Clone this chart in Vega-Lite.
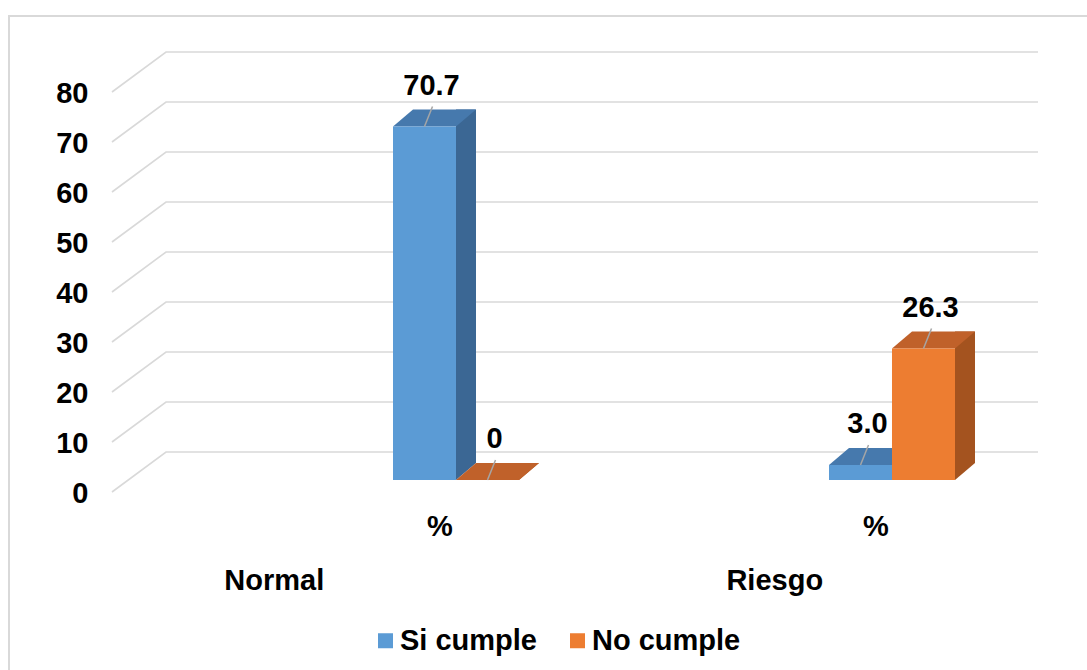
{
  "$schema": "https://vega.github.io/schema/vega-lite/v6.json",
  "width": 1081,
  "height": 657,
  "autosize": "none",
  "padding": {"left": 9, "top": 16, "right": -3, "bottom": -3},
  "background": "white",
  "config": {
    "view": {"stroke": "#d9d9d9", "strokeWidth": 2},
    "font": "Liberation Sans"
  },
  "datasets": {
    "pct": [
      {"cat": "Normal", "series": "Si cumple", "value": 70.7},
      {"cat": "Normal", "series": "No cumple", "value": 0},
      {"cat": "Riesgo", "series": "Si cumple", "value": 3.0},
      {"cat": "Riesgo", "series": "No cumple", "value": 26.3}
    ],
    "ticks": [
      {"v": 0}, {"v": 10}, {"v": 20}, {"v": 30}, {"v": 40},
      {"v": 50}, {"v": 60}, {"v": 70}, {"v": 80}
    ],
    "groups": [{"cat": "Normal"}, {"cat": "Riesgo"}]
  },
  "resolve": {"scale": {"x": "independent"}, "axis": {"x": "independent"}},
  "layer": [
    {
      "data": {"name": "ticks"},
      "mark": {
        "type": "point",
        "shape": "M-437.5,40L-383.5,0L488.5,0",
        "size": 4,
        "filled": false,
        "color": "#d9d9d9",
        "stroke": "#d9d9d9",
        "strokeWidth": 1.6,
        "opacity": 1
      },
      "encoding": {
        "y": {
          "field": "v",
          "type": "quantitative",
          "title": null,
          "scale": {"domain": [0, 80], "range": [436, 36], "nice": false, "zero": true},
          "axis": {
            "values": [0, 10, 20, 30, 40, 50, 60, 70, 80],
            "domain": false,
            "ticks": false,
            "tickSize": 0,
            "grid": false,
            "labelPadding": 0,
            "offset": -79,
            "labelOffset": 41,
            "labelFlush": false,
            "labelFontSize": 29,
            "labelFontWeight": "bold",
            "labelFont": "Liberation Sans",
            "labelColor": "#000000",
            "title": null
          }
        }
      }
    },
    {
      "data": {"name": "pct"},
      "resolve": {"scale": {"xOffset": "independent"}},
      "encoding": {
        "x": {
          "field": "cat",
          "type": "nominal",
          "title": null,
          "scale": {"range": [384, 946], "paddingInner": 0.711, "paddingOuter": 0}
        },
        "y": {"field": "value", "type": "quantitative", "stack": null, "title": null}
      },
      "layer": [
        {
          "mark": {"type": "bar", "yOffset": 11, "y2Offset": 11},
          "encoding": {
            "xOffset": {
              "field": "series",
              "type": "nominal",
              "scale": {"type": "band", "domain": ["Si cumple", "No cumple"], "range": [63, 146], "paddingInner": 0.6825, "paddingOuter": 0}
            },
            "y2": {"datum": 0},
            "color": {
              "condition": {"test": "datum.series === 'Si cumple'", "value": "#3b6794"},
              "value": "#a4531f"
            }
          }
        },
        {
          "mark": {
            "type": "point",
            "shape": "M31.5,0L31.5,-17L51.5,-17Z",
            "size": 4,
            "filled": true,
            "opacity": 1,
            "strokeWidth": 0,
            "yOffset": 28
          },
          "encoding": {
            "xOffset": {
              "field": "series",
              "type": "nominal",
              "scale": {"type": "band", "domain": ["Si cumple", "No cumple"], "paddingInner": 0, "paddingOuter": 0}
            },
            "y": {"datum": 0, "type": "quantitative"},
            "color": {
              "condition": {"test": "datum.series === 'Si cumple'", "value": "#3b6794"},
              "value": "#a4531f"
            }
          }
        },
        {
          "mark": {
            "type": "point",
            "shape": "M-31.5,0L31.5,0L51.5,-17L-11.5,-17Z",
            "size": 4,
            "filled": true,
            "opacity": 1,
            "strokeWidth": 0,
            "yOffset": 28
          },
          "encoding": {
            "xOffset": {
              "field": "series",
              "type": "nominal",
              "scale": {"type": "band", "domain": ["Si cumple", "No cumple"], "paddingInner": 0, "paddingOuter": 0}
            },
            "color": {
              "condition": {"test": "datum.series === 'Si cumple'", "value": "#4679ad"},
              "value": "#c0612a"
            }
          }
        },
        {
          "mark": {"type": "bar", "yOffset": 28, "y2Offset": 28},
          "encoding": {
            "xOffset": {
              "field": "series",
              "type": "nominal",
              "scale": {"type": "band", "domain": ["Si cumple", "No cumple"], "paddingInner": 0, "paddingOuter": 0}
            },
            "y2": {"datum": 0},
            "x": {
              "field": "cat",
              "type": "nominal",
              "title": null,
              "axis": {
                "labelExpr": "'%'",
                "labelAngle": 0,
                "labelAlign": "center",
                "labelOffset": -16,
                "offset": -147,
                "labelBaseline": "middle",
                "labelPadding": 0,
                "domain": false,
                "ticks": false,
                "tickSize": 0,
                "grid": false,
                "labelFontSize": 29,
                "labelFontWeight": "bold",
                "labelFont": "Liberation Sans",
                "labelColor": "#000000",
                "title": null
              }
            },
            "color": {
              "field": "series",
              "type": "nominal",
              "scale": {"domain": ["Si cumple", "No cumple"], "range": ["#5b9bd5", "#ed7d31"]},
              "legend": {
                "orient": "none",
                "legendX": 362,
                "legendY": 610,
                "direction": "horizontal",
                "title": null,
                "symbolType": "square",
                "symbolSize": 225,
                "symbolStrokeWidth": 0,
                "symbolOpacity": 1,
                "labelFontSize": 29,
                "labelFontWeight": "bold",
                "labelFont": "Liberation Sans",
                "labelColor": "#000000",
                "labelOffset": 0,
                "columnPadding": 26,
                "padding": 0,
                "labelLimit": 300
              }
            }
          }
        },
        {
          "mark": {
            "type": "point",
            "shape": "M0,0L8,-20",
            "size": 4,
            "filled": false,
            "color": "#a6a6a6",
            "stroke": "#a6a6a6",
            "strokeWidth": 1.5,
            "opacity": 1,
            "yOffset": 28
          },
          "encoding": {
            "xOffset": {
              "field": "series",
              "type": "nominal",
              "scale": {"type": "band", "domain": ["Si cumple", "No cumple"], "paddingInner": 0, "paddingOuter": 0}
            }
          }
        },
        {
          "mark": {
            "type": "text",
            "dx": 7,
            "dy": -13,
            "baseline": "middle",
            "fontSize": 29,
            "fontWeight": "bold",
            "font": "Liberation Sans",
            "color": "#000000"
          },
          "encoding": {
            "xOffset": {
              "field": "series",
              "type": "nominal",
              "scale": {"type": "band", "domain": ["Si cumple", "No cumple"], "paddingInner": 0, "paddingOuter": 0}
            },
            "text": {
              "condition": {"test": "datum.value === 0", "value": "0"},
              "field": "value",
              "type": "quantitative",
              "format": ".1f"
            }
          }
        }
      ]
    },
    {
      "data": {"name": "groups"},
      "mark": {
        "type": "text",
        "dy": 129,
        "baseline": "middle",
        "fontSize": 29,
        "fontWeight": "bold",
        "font": "Liberation Sans",
        "color": "#000000"
      },
      "encoding": {
        "x": {
          "field": "cat",
          "type": "nominal",
          "title": null,
          "axis": null,
          "scale": {"range": [15, 1016], "paddingInner": 0, "paddingOuter": 0}
        },
        "y": {"datum": 0, "type": "quantitative"},
        "text": {"field": "cat", "type": "nominal"}
      }
    }
  ]
}
